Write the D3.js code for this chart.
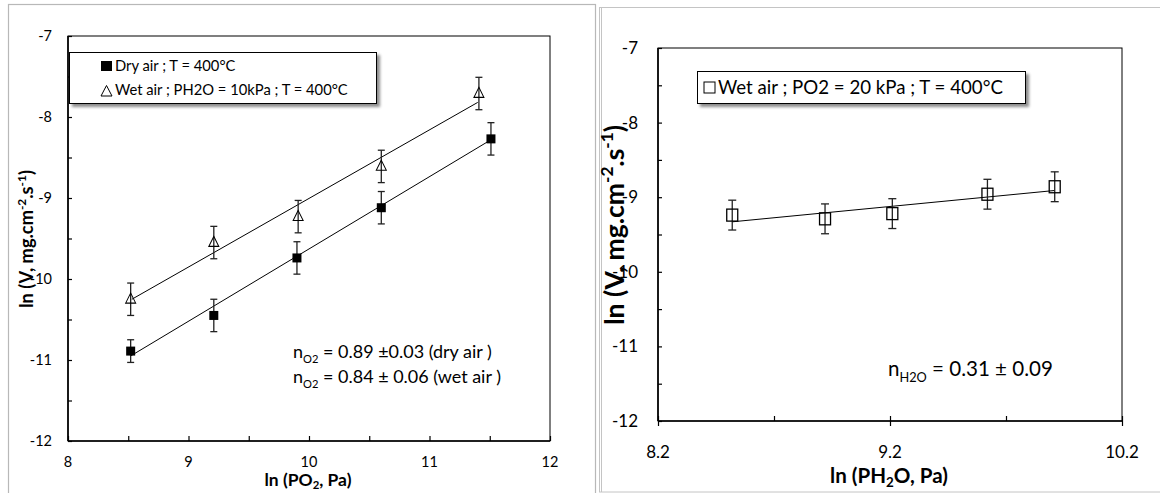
<!DOCTYPE html>
<html><head><meta charset="utf-8">
<script src="https://cdn.jsdelivr.net/npm/d3@7"></script>
<style>
html,body{margin:0;padding:0;background:#fff;}
svg{display:block;font-family:Lato, "Open Sans", sans-serif;}
</style></head>
<body>
<svg id="c" width="1160" height="493"></svg>
<script>
// ---------- data (left chart: ln V vs ln PO2) ----------
const dryX   = [8.52, 9.21, 9.90, 10.60, 11.51];
const dryY   = [-10.89, -10.45, -9.74, -9.12, -8.27];
const dryErr = [0.14, 0.20, 0.20, 0.20, 0.20];
const wetX   = [8.52, 9.21, 9.91, 10.60, 11.41];
const wetY   = [-10.25, -9.55, -9.23, -8.61, -7.71];
const wetErr = [0.20, 0.20, 0.20, 0.20, 0.20];
const dryFitX = [8.52, 11.50];
const dryFitY = [-10.95, -8.29];
const wetFitX = [8.53, 11.40];
const wetFitY = [-10.25, -7.82];
const leftXTicks = [8, 8.5, 9, 9.5, 10, 10.5, 11, 11.5, 12];
const leftXLabels = [8, 9, 10, 11, 12];
const yTicks = [-12, -11.5, -11, -10.5, -10, -9.5, -9, -8.5, -8, -7.5, -7];
const yLabels = [-12, -11, -10, -9, -8, -7];

// ---------- data (right chart: ln V vs ln PH2O) ----------
const h2oX   = [8.52, 8.92, 9.21, 9.62, 9.91];
const h2oY   = [-9.24, -9.29, -9.22, -8.96, -8.86];
const h2oErr = [0.20, 0.20, 0.20, 0.20, 0.20];
const h2oFitX = [8.52, 9.91];
const h2oFitY = [-9.33, -8.91];
const rightXTicks = [8.2, 8.7, 9.2, 9.7, 10.2];
const rightXLabels = [8.2, 9.2, 10.2];

const svg = d3.select("#c");
const defs = svg.append("defs");
const f = defs.append("filter").attr("id","sh").attr("x","-10%").attr("y","-20%").attr("width","130%").attr("height","160%");
f.append("feDropShadow").attr("dx",3).attr("dy",3).attr("stdDeviation",1.6).attr("flood-color","#000").attr("flood-opacity",0.45);

// build a text with a builder(fs), then rescale font so its width equals target
function fitted(build, fs0, target){
  let t = build(fs0);
  const w = t.node().getComputedTextLength();
  t.remove();
  return build(fs0*target/w);
}

// panel frames
svg.append("rect").attr("x",8.5).attr("y",4.5).attr("width",587).attr("height",500).attr("fill","none").attr("stroke","#b8b8b8").attr("stroke-width",1.2);
svg.append("rect").attr("x",599.5).attr("y",7.5).attr("width",570).attr("height",484.5).attr("fill","none").attr("stroke","#c4c4c4").attr("stroke-width",1);
svg.append("line").attr("x1",601.5).attr("x2",601.5).attr("y1",7.5).attr("y2",492).attr("stroke","#c4c4c4");

function chart(opt){
  const g = svg.append("g");
  const x = d3.scaleLinear().domain(opt.xd).range([opt.x0, opt.x1]);
  const y = d3.scaleLinear().domain([-12,-7]).range([opt.y1, opt.y0]);
  g.append("rect").attr("x",opt.x0).attr("y",opt.y0).attr("width",opt.x1-opt.x0).attr("height",opt.y1-opt.y0)
    .attr("fill","none").attr("stroke","#000").attr("stroke-width",1);
  g.append("line").attr("x1",opt.x0).attr("x2",opt.x0).attr("y1",opt.y0).attr("y2",opt.y1).attr("stroke","#000").attr("stroke-width",1.6);
  g.append("line").attr("x1",opt.x0).attr("x2",opt.x1).attr("y1",opt.y1).attr("y2",opt.y1).attr("stroke","#000").attr("stroke-width",1.6);
  const ya = d3.axisRight(y).tickValues(yTicks).tickSize(4).tickFormat("");
  const yg = g.append("g").attr("transform",`translate(${opt.x0},0)`).call(ya);
  yg.select(".domain").remove();
  yg.selectAll("line").attr("stroke","#000").attr("stroke-width",1.2);
  g.selectAll(".yl").data(yLabels).join("text")
    .attr("x",opt.x0-opt.ylPad).attr("y",d=>y(d)).attr("dy","0.35em").attr("text-anchor","end")
    .attr("font-size",opt.tickFs).attr("fill","#000").text(d=>d);
  const xa = d3.axisTop(x).tickValues(opt.xt).tickSize(5).tickFormat("");
  const xg = g.append("g").attr("transform",`translate(0,${opt.y1})`).call(xa);
  xg.select(".domain").remove();
  xg.selectAll("line").attr("stroke","#000").attr("stroke-width",1.2);
  if(opt.crossMajor){
    const xb = d3.axisBottom(x).tickValues(opt.xl).tickSize(5).tickFormat("");
    const xbg = g.append("g").attr("transform",`translate(0,${opt.y1})`).call(xb);
    xbg.select(".domain").remove();
    xbg.selectAll("line").attr("stroke","#000").attr("stroke-width",1.2);
  }
  g.selectAll(".xl").data(opt.xl).join("text")
    .attr("x",d=>x(d)).attr("y",opt.xlY).attr("dy","0.35em").attr("text-anchor","middle")
    .attr("font-size",opt.tickFs).attr("fill","#000").text(d=>opt.fmt(d));
  return {g,x,y};
}

function errBars(c, xs, ys, es, cap){
  const d = xs.map((v,i)=>({x:v,y:ys[i],e:es[i]}));
  const eg = c.g.append("g").attr("stroke","#222").attr("stroke-width",1.3);
  eg.selectAll(".v").data(d).join("line").attr("x1",p=>c.x(p.x)).attr("x2",p=>c.x(p.x)).attr("y1",p=>c.y(p.y+p.e)).attr("y2",p=>c.y(p.y-p.e));
  eg.selectAll(".t").data(d).join("line").attr("x1",p=>c.x(p.x)-cap).attr("x2",p=>c.x(p.x)+cap).attr("y1",p=>c.y(p.y+p.e)).attr("y2",p=>c.y(p.y+p.e));
  eg.selectAll(".b").data(d).join("line").attr("x1",p=>c.x(p.x)-cap).attr("x2",p=>c.x(p.x)+cap).attr("y1",p=>c.y(p.y-p.e)).attr("y2",p=>c.y(p.y-p.e));
}
function fitLine(c, xs, ys){
  const line = d3.line().x(d=>c.x(d[0])).y(d=>c.y(d[1]));
  c.g.append("path").attr("d",line(xs.map((v,i)=>[v,ys[i]]))).attr("fill","none").attr("stroke","#000").attr("stroke-width",1);
}

// ---------- left chart ----------
const L = chart({x0:68,x1:550,y0:36,y1:441,xd:[8,12],xt:leftXTicks,xl:leftXLabels,ylPad:16,xlY:461.5,tickFs:14.5,fmt:d=>d,crossMajor:false});
fitLine(L, dryFitX, dryFitY);
fitLine(L, wetFitX, wetFitY);
errBars(L, dryX, dryY, dryErr, 3.5);
errBars(L, wetX, wetY, wetErr, 3.5);
L.g.selectAll(".dry").data(dryX.map((v,i)=>[v,dryY[i]])).join("rect")
  .attr("x",d=>L.x(d[0])-4.5).attr("y",d=>L.y(d[1])-4.5).attr("width",9).attr("height",9).attr("fill","#000");
const tri = d3.symbol().type(d3.symbolTriangle).size(48);
L.g.selectAll(".wet").data(wetX.map((v,i)=>[v,wetY[i]])).join("path")
  .attr("d",tri).attr("transform",d=>`translate(${L.x(d[0])},${L.y(d[1])+0.5}) scale(0.95,1.1)`)
  .attr("fill","none").attr("stroke","#000").attr("stroke-width",1);

// legend left
const lg = svg.append("g");
lg.append("rect").attr("x",69.5).attr("y",52.5).attr("width",307).attr("height",51).attr("fill","#fff").attr("stroke","#000").attr("stroke-width",1).attr("filter","url(#sh)");
lg.append("rect").attr("x",101).attr("y",61).attr("width",11).attr("height",10).attr("fill","#000");
lg.append("path").attr("d","M106.5,85.5 L101,96 L112,96 Z").attr("fill","none").attr("stroke","#000").attr("stroke-width",1);
const legFsL = (()=>{ const t=lg.append("text").attr("font-size",14).text("Wet air ; PH2O = 10kPa ; T = 400°C"); const w=t.node().getComputedTextLength(); t.remove(); return 14*233/w; })();
lg.append("text").attr("x",115).attr("y",66).attr("dy","0.35em").attr("font-size",legFsL).text("Dry air ; T = 400°C");
lg.append("text").attr("x",115).attr("y",90).attr("dy","0.35em").attr("font-size",legFsL).text("Wet air ; PH2O = 10kPa ; T = 400°C");

// annotations
function nText(x, y, sub, rest){
  return fs => {
    const t = svg.append("text").attr("x",x).attr("y",y).attr("font-size",fs).attr("fill","#000");
    t.append("tspan").text("n");
    t.append("tspan").attr("font-size",fs*0.62).attr("dy",fs*0.28).text(sub);
    t.append("tspan").attr("dy",-fs*0.28).text(rest);
    return t;
  };
}
const annFs = (()=>{ const t=nText(293,358,"O2"," = 0.89 ±0.03 (dry air )")(17); const w=t.node().getComputedTextLength(); t.remove(); return 17*199/w; })();
nText(293, 358, "O2", " = 0.89 ±0.03 (dry air )")(annFs);
nText(293, 383, "O2", " = 0.84 ± 0.06 (wet air )")(annFs);

// axis titles
function yTitle(x, y){
  return fs => {
    const t = svg.append("text").attr("transform",`translate(${x},${y}) rotate(-90)`).attr("text-anchor","middle")
      .attr("font-size",fs).attr("font-weight","bold").attr("fill","#000");
    t.append("tspan").text("ln (V, mg.cm");
    t.append("tspan").attr("font-size",fs*0.65).attr("dy",-fs*0.38).text("-2");
    t.append("tspan").attr("dy",fs*0.38).text(".s");
    t.append("tspan").attr("font-size",fs*0.65).attr("dy",-fs*0.38).text("-1");
    t.append("tspan").attr("dy",fs*0.38).text(")");
    return t;
  };
}
function xTitle(x, y, a, sub, b){
  return fs => {
    const t = svg.append("text").attr("x",x).attr("y",y).attr("text-anchor","middle")
      .attr("font-size",fs).attr("font-weight","bold").attr("fill","#000");
    t.append("tspan").text(a);
    t.append("tspan").attr("font-size",fs*0.65).attr("dy",fs*0.18).text(sub);
    t.append("tspan").attr("dy",-fs*0.18).text(b);
    return t;
  };
}
fitted(yTitle(33, 239), 15, 138);
fitted(xTitle(308, 485.5, "ln (PO", "2", ", Pa)"), 15, 87);

// ---------- right chart ----------
const R = chart({x0:658,x1:1122,y0:48,y1:421,xd:[8.2,10.2],xt:rightXTicks,xl:rightXLabels,ylPad:20,xlY:452,tickFs:17,fmt:d=>d3.format(".1f")(d),crossMajor:true});
fitLine(R, h2oFitX, h2oFitY);
errBars(R, h2oX, h2oY, h2oErr, 4);
R.g.selectAll(".h2o").data(h2oX.map((v,i)=>[v,h2oY[i]])).join("rect")
  .attr("x",d=>R.x(d[0])-5.5).attr("y",d=>R.y(d[1])-6).attr("width",11).attr("height",12)
  .attr("fill","none").attr("stroke","#000").attr("stroke-width",1.3);

const rg = svg.append("g");
rg.append("rect").attr("x",697.5).attr("y",71.5).attr("width",328).attr("height",32).attr("fill","#fff").attr("stroke","#000").attr("stroke-width",1).attr("filter","url(#sh)");
rg.append("rect").attr("x",704).attr("y",82).attr("width",11).attr("height",11).attr("fill","none").attr("stroke","#000").attr("stroke-width",1);
fitted(fs => rg.append("text").attr("x",718).attr("y",87.5).attr("dy","0.35em").attr("font-size",fs).text("Wet air ; PO2 = 20 kPa ; T = 400°C"), 18, 285);

fitted(nText(888, 376, "H2O", " = 0.31 ± 0.09"), 22, 165);

fitted(yTitle(623.5, 225), 19, 200);
fitted(xTitle(889, 483, "ln (PH", "2", "O, Pa)"), 19, 118);
</script>
</body></html>
